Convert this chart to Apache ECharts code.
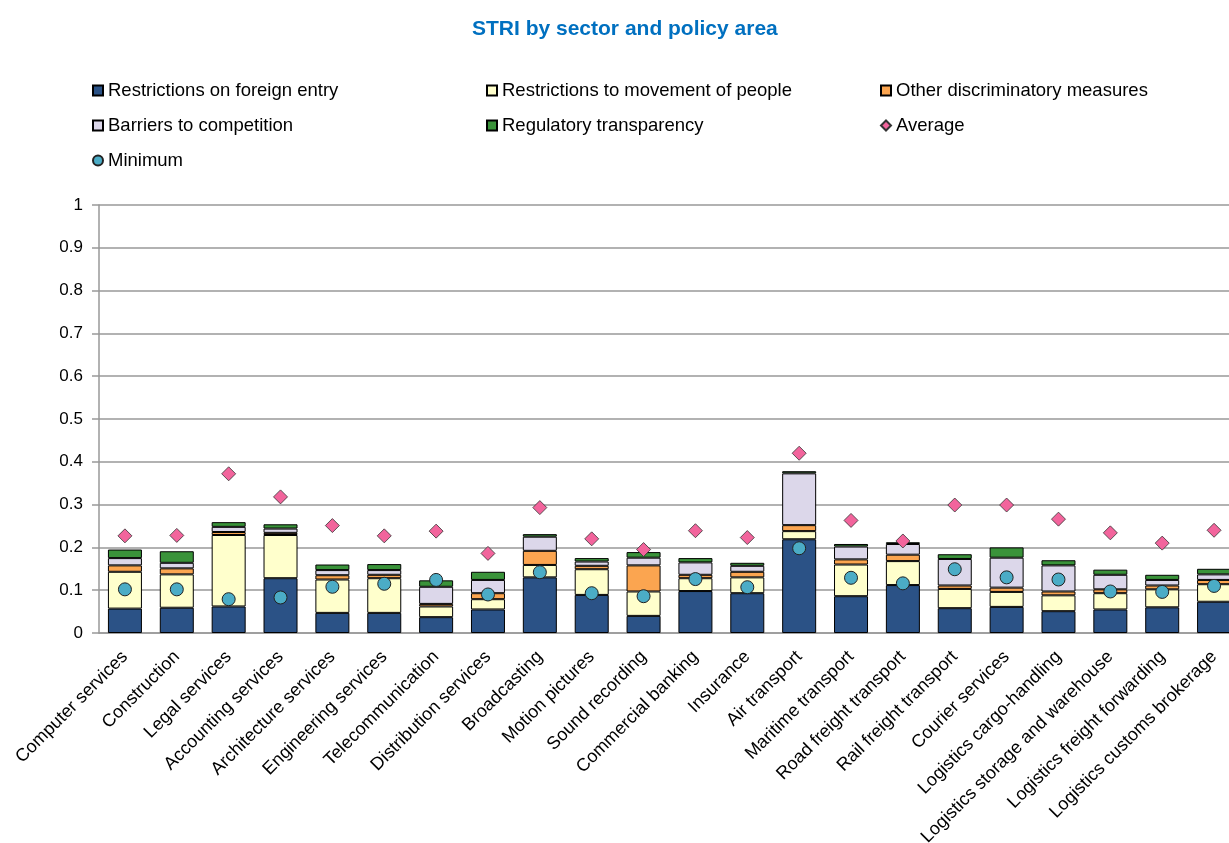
<!DOCTYPE html>
<html>
<head>
<meta charset="utf-8">
<script src="https://cdn.jsdelivr.net/npm/echarts@6/dist/echarts.min.js"></script>
<style>
  html, body { margin: 0; padding: 0; background: #fff; }
  #main { width: 1229px; height: 843px; }
</style>
</head>
<body>
<div id="main"></div>
<script type="text/javascript">
    // sectors
    var categories = ['Computer services', 'Construction', 'Legal services', 'Accounting services',
        'Architecture services', 'Engineering services', 'Telecommunication', 'Distribution services',
        'Broadcasting', 'Motion pictures', 'Sound recording', 'Commercial banking', 'Insurance',
        'Air transport', 'Maritime transport', 'Road freight transport', 'Rail freight transport',
        'Courier services', 'Logistics cargo-handling', 'Logistics storage and warehouse',
        'Logistics freight forwarding', 'Logistics customs brokerage'];

    // policy area components (stacked)
    var foreignEntry   = [0.057, 0.059, 0.062, 0.128, 0.047, 0.047, 0.037, 0.055, 0.130, 0.089, 0.040, 0.098, 0.093, 0.219, 0.086, 0.112, 0.058, 0.061, 0.051, 0.055, 0.060, 0.073];
    var movementPeople = [0.086, 0.078, 0.167, 0.101, 0.078, 0.081, 0.025, 0.024, 0.029, 0.060, 0.057, 0.030, 0.037, 0.019, 0.074, 0.056, 0.045, 0.035, 0.037, 0.038, 0.042, 0.041];
    var otherDiscrim   = [0.015, 0.014, 0.007, 0.005, 0.010, 0.008, 0.006, 0.014, 0.033, 0.008, 0.061, 0.008, 0.013, 0.014, 0.012, 0.015, 0.008, 0.010, 0.009, 0.009, 0.009, 0.010];
    var barriers       = [0.017, 0.013, 0.012, 0.010, 0.012, 0.011, 0.040, 0.031, 0.033, 0.010, 0.018, 0.029, 0.014, 0.121, 0.030, 0.025, 0.062, 0.070, 0.061, 0.034, 0.013, 0.013];
    var transparency   = [0.020, 0.027, 0.011, 0.010, 0.013, 0.014, 0.015, 0.019, 0.006, 0.008, 0.013, 0.010, 0.007, 0.005, 0.006, 0.004, 0.011, 0.024, 0.012, 0.012, 0.012, 0.013];

    // markers
    var average = [0.227, 0.228, 0.372, 0.318, 0.251, 0.227, 0.238, 0.186, 0.293, 0.220, 0.195, 0.239, 0.223, 0.420, 0.263, 0.215, 0.299, 0.299, 0.266, 0.234, 0.210, 0.240];
    var minimum = [0.102, 0.102, 0.079, 0.083, 0.108, 0.115, 0.124, 0.090, 0.142, 0.093, 0.086, 0.126, 0.107, 0.198, 0.129, 0.116, 0.149, 0.130, 0.125, 0.097, 0.096, 0.110];

    var font = 'Liberation Sans, Arial, sans-serif';
    var myChart = echarts.init(document.getElementById('main'));

    function bar(name, data, color) {
        return {
            name: name,
            type: 'bar',
            stack: 'stri',
            barWidth: 34,
            data: data,
            itemStyle: { color: color, borderColor: '#000', borderWidth: 1 }
        };
    }

    // one legend per entry, laid out in 3 columns like the original
    function leg(name, x, y, icon) {
        var l = {
            data: [name],
            left: x,
            top: y,
            itemWidth: 10,
            itemHeight: 10,
            textStyle: { fontSize: 18.5, color: '#000', fontFamily: font }
        };
        if (icon) l.icon = icon;
        return l;
    }

    var option = {
        animation: false,
        title: {
            text: 'STRI by sector and policy area',
            left: 467,
            top: 14,
            textStyle: { fontSize: 21, fontWeight: 'bold', color: '#0070C0', fontFamily: font }
        },
        legend: [
            leg('Restrictions on foreign entry', 87, 76, 'rect'),
            leg('Restrictions to movement of people', 481, 76, 'rect'),
            leg('Other discriminatory measures', 875, 76, 'rect'),
            leg('Barriers to competition', 87, 111, 'rect'),
            leg('Regulatory transparency', 481, 111, 'rect'),
            leg('Average', 875, 111),
            leg('Minimum', 87, 146)
        ],
        grid: { left: 99, top: 205, width: 1141, height: 428, containLabel: false, outerBoundsMode: 'none' },
        xAxis: {
            type: 'category',
            data: categories,
            axisLine: { lineStyle: { color: '#999', width: 1.5 } },
            axisTick: { show: false },
            axisLabel: { rotate: 45, interval: 0, fontSize: 18, color: '#000', fontFamily: font, margin: 21 }
        },
        yAxis: {
            type: 'value',
            min: 0,
            max: 1,
            interval: 0.1,
            axisLine: { show: true, lineStyle: { color: '#999', width: 1.5 } },
            axisTick: { show: true, length: 7, lineStyle: { color: '#999', width: 1.5 } },
            splitLine: { lineStyle: { color: '#999', width: 1.5 } },
            axisLabel: { fontSize: 17, color: '#000', fontFamily: font, margin: 16 }
        },
        series: [
            bar('Restrictions on foreign entry', foreignEntry, '#2B5286'),
            bar('Restrictions to movement of people', movementPeople, '#FFFFCC'),
            bar('Other discriminatory measures', otherDiscrim, '#FBA550'),
            bar('Barriers to competition', barriers, '#DCD7EA'),
            bar('Regulatory transparency', transparency, '#3A933A'),
            {
                name: 'Average',
                type: 'scatter',
                symbol: 'diamond',
                symbolSize: 14,
                z: 5,
                data: average,
                itemStyle: { color: '#F2649C', borderColor: '#333', borderWidth: 0.8, opacity: 1 }
            },
            {
                name: 'Minimum',
                type: 'scatter',
                symbol: 'circle',
                symbolSize: 13,
                z: 5,
                data: minimum,
                itemStyle: { color: '#4BACC6', borderColor: '#222', borderWidth: 1, opacity: 1 }
            }
        ]
    };
    myChart.setOption(option);
</script>
</body>
</html>
